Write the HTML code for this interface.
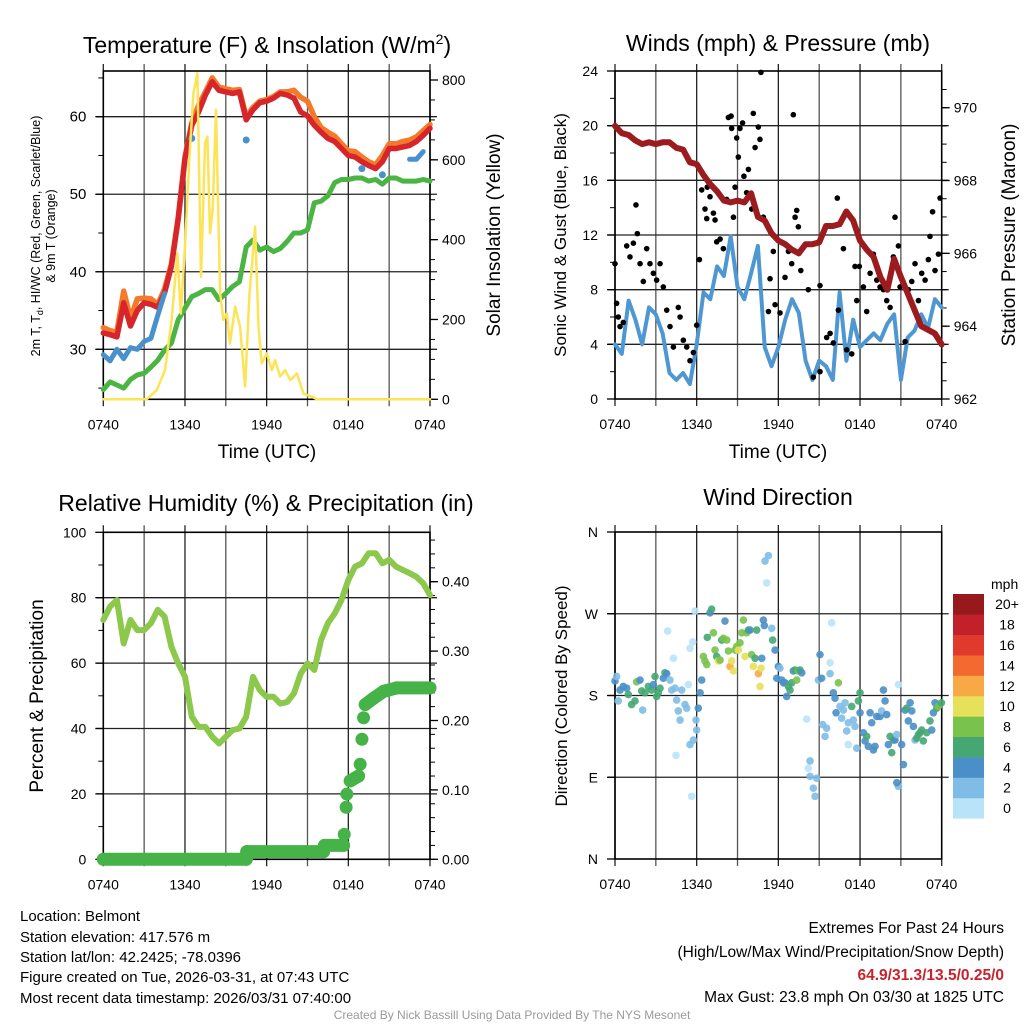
<!DOCTYPE html>
<html><head><meta charset="utf-8"><style>
html,body{margin:0;padding:0;background:#fff;}
svg{display:block;font-family:"Liberation Sans",Arial,sans-serif;}
</style></head><body>
<svg id="fig" width="1024" height="1024" viewBox="0 0 1024 1024" xmlns="http://www.w3.org/2000/svg">
<rect x="0" y="0" width="1024" height="1024" fill="#fff"/>
<text x="267" y="53" font-size="23" text-anchor="middle">Temperature (F) &amp; Insolation (W/m<tspan font-size="14" dy="-9">2</tspan><tspan dy="9">)</tspan></text>
<text x="778" y="51" font-size="23" text-anchor="middle">Winds (mph) &amp; Pressure (mb)</text>
<text x="266" y="511" font-size="23" text-anchor="middle">Relative Humidity (%) &amp; Precipitation (in)</text>
<text x="778" y="505" font-size="23" text-anchor="middle">Wind Direction</text>
<text x="267" y="458" font-size="19" text-anchor="middle">Time (UTC)</text>
<text x="778" y="458" font-size="19" text-anchor="middle">Time (UTC)</text>
<text transform="translate(40,236) rotate(-90)" font-size="12.5" text-anchor="middle">2m T, T<tspan font-size="9" dy="3">d</tspan><tspan dy="-3">, HI/WC (Red, Green, Scarlet/Blue)</tspan></text>
<text transform="translate(55,236) rotate(-90)" font-size="12.5" text-anchor="middle">&amp; 9m T (Orange)</text>
<text transform="translate(500,235) rotate(-90)" font-size="19" text-anchor="middle">Solar Insolation (Yellow)</text>
<text transform="translate(566,235) rotate(-90)" font-size="17" text-anchor="middle">Sonic Wind &amp; Gust (Blue, Black)</text>
<text transform="translate(1015,235) rotate(-90)" font-size="19" text-anchor="middle">Station Pressure (Maroon)</text>
<text transform="translate(43,696) rotate(-90)" font-size="19" text-anchor="middle">Percent &amp; Precipitation</text>
<text transform="translate(567,696) rotate(-90)" font-size="17" text-anchor="middle">Direction (Colored By Speed)</text>
<g font-size="15">
<text x="20" y="921">Location: Belmont</text>
<text x="20" y="942">Station elevation: 417.576 m</text>
<text x="20" y="962">Station lat/lon: 42.2425; -78.0396</text>
<text x="20" y="982">Figure created on Tue, 2026-03-31, at 07:43 UTC</text>
<text x="20" y="1003">Most recent data timestamp: 2026/03/31 07:40:00</text>
</g>
<g font-size="15.5" text-anchor="end">
<text x="1004" y="933">Extremes For Past 24 Hours</text>
<text x="1004" y="957">(High/Low/Max Wind/Precipitation/Snow Depth)</text>
<text x="1004" y="980" fill="#c8232c" font-weight="bold">64.9/31.3/13.5/0.25/0</text>
<text x="1004" y="1002">Max Gust: 23.8 mph On 03/30 at 1825 UTC</text>
</g>
<text x="512" y="1019" font-size="12" fill="#9a9a9a" text-anchor="middle">Created By Nick Bassill Using Data Provided By The NYS Mesonet</text>
</svg>
<script>
// ---------- data (half-hour samples, hour 0 = 0740 UTC) ----------
const timeLabels = ['0740','1340','1940','0140','0740'];
const tempRed = [32.1,31.9,31.6,36,33,35,36.0,35.8,35.4,37.3,40.7,46.8,54.6,58.9,60.6,62.8,64.5,63.4,63.2,63.0,63.2,59.6,60.9,61.8,62.0,62.4,63.0,62.8,62.4,60.6,60.1,58.9,58.0,57.2,56.8,55.9,55.0,54.8,54.2,53.7,53.3,54.2,55.9,55.9,56.1,56.3,56.8,57.6,58.5];
const tempOrange = [32.8,32.4,32.2,37.5,34,36.5,36.6,36.5,35.8,37.8,41,47,54.8,59.2,61.5,63.2,65,63.8,63.6,63.4,63.5,60,61.2,62,62.2,62.6,63.2,63.2,63.4,62.5,62,60,58.6,58,57.5,56.5,55.6,55.5,54.8,54.2,53.8,55,56.5,56.5,56.8,57,57.4,58.2,59];
const tempWC = [29.3,28.5,30,28.8,30.2,30,31,31.4,34.4,37.2,null,null,null,57.2,null,null,null,null,null,null,null,57,null,null,null,null,null,null,null,null,null,null,null,null,null,null,null,null,53.3,null,null,52.5,null,null,null,54.5,54.5,55.5,null];
const dewGreen = [24.8,25.8,25.4,25.0,26.1,26.7,26.9,27.7,28.6,29.9,30.8,33.8,35.3,36.8,37.2,37.7,37.7,36.4,37.2,38.1,38.7,43.2,44.1,42.8,43.2,42.6,43.0,43.9,45.0,45.0,45.4,48.9,49.1,49.8,51.5,51.9,51.9,52.1,52.1,51.7,51.9,51.3,52.1,52.1,51.7,51.7,51.7,51.9,51.7];
const solarHours = [0,3.19,3.92,4.53,5.02,5.44,5.69,6.0,6.32,6.62,6.91,7.18,7.48,7.65,7.84,8.04,8.28,8.58,8.82,9.07,9.31,9.68,10.05,10.42,10.74,10.91,11.15,11.4,11.64,12.01,12.38,12.62,12.99,13.36,13.73,14.22,14.71,15.2,15.69,24];
const solarValues = [0,0,23,73,199,366,215,383,600,767,817,307,642,658,416,475,725,266,199,215,140,232,182,32,266,332,433,182,90,115,73,98,57,73,48,65,14,8,0,0];
const windSpeed = [4,3.3,7.2,5.8,4.0,6.7,6.2,4.8,1.9,1.4,1.9,1.1,4.0,7.8,7.3,9.7,9.0,11.9,8.2,7.3,9.2,11.2,3.8,2.4,3.8,5.8,7.3,6.3,2.8,1.4,2.8,2.4,1.4,7.8,2.8,5.8,3.8,4.3,4.8,4.3,5.5,6.2,1.4,4.5,5.0,6.2,5.2,7.3,6.7];
const pressure = [969.5,969.3,969.25,969.1,969.0,969.05,969.0,969.05,969.05,968.9,968.85,968.5,968.45,968.15,967.9,967.7,967.45,967.4,967.45,967.4,967.65,967.0,966.9,966.55,966.35,966.25,966.1,966.0,966.25,966.25,966.3,966.75,966.75,966.8,967.15,966.9,966.35,966.1,965.9,965.35,965.0,965.85,965.35,964.9,964.45,964.0,963.9,963.8,963.5];
const gustHours = [0,0.12,0.24,0.37,0.61,0.86,1.1,1.35,1.54,1.64,1.84,2.08,2.33,2.57,2.82,3.06,3.31,3.55,3.8,4.04,4.29,4.65,4.78,5.02,5.27,5.51,5.76,6.0,6.2,6.37,6.61,6.74,6.78,6.98,7.23,7.35,7.47,7.72,7.96,8.21,8.33,8.53,8.57,8.7,8.82,8.94,9.06,9.18,9.37,9.47,9.67,9.8,10.04,10.16,10.29,10.53,10.65,10.72,10.9,11.27,11.39,11.63,11.76,12.12,12.49,12.74,12.98,13.23,13.35,13.1,13.47,13.65,14.2,14.57,15.06,15.06,15.55,15.8,16.04,16.41,16.33,16.78,17.02,17.39,17.63,17.76,17.95,18.0,18.25,18.49,18.74,18.98,19.23,19.47,19.72,19.96,20.21,20.45,20.57,20.82,20.94,21.31,21.55,21.8,22.04,22.29,22.53,22.78,23.02,23.14,23.33,23.51,23.76,23.88];
const gustValues = [9.9,7.0,6.0,5.3,5.6,11.2,10.4,11.4,14.2,12.1,9.9,8.6,11.0,9.9,9.2,8.7,9.9,8.2,6.5,5.3,3.8,6.7,6.0,4.3,3.8,2.8,3.4,5.4,10.2,15.3,13.9,13.2,15.5,14.8,13.6,13.1,11.5,11.7,11.0,14.6,20.6,20.7,19.8,13.3,15.5,19.1,17.7,19.8,20.2,16.3,15.1,16.8,13.9,20.9,18.4,19.9,19.0,23.9,13.3,6.4,8.8,10.8,6.9,6.3,8.9,10.8,9.9,13.3,13.8,20.8,12.6,9.4,8.0,1.6,2.0,8.3,4.5,4.8,4.1,6.5,14.7,11.0,3.6,3.3,9.7,7.2,9.7,11.6,8.2,6.4,9.2,10.6,8.7,8.2,8.0,7.2,6.7,10.4,13.3,11.2,8.2,4.2,8.0,8.6,9.9,7.2,9.2,8.7,10.2,11.9,13.7,9.4,10.6,14.7,13.5];
const rhValues = [73.2,77.3,79.3,66.0,73.2,70.1,70.1,72.2,76.3,74.2,65.0,59.9,55.8,43.6,40.5,40.5,37.5,35.4,37.5,39.5,40.0,43.6,55.8,51.7,49.7,49.7,47.6,48.1,50.7,56.8,59.9,57.9,67.1,72.2,75.2,79.3,85.4,89.5,90.5,93.6,93.6,90.5,91.6,89.5,88.5,87.5,86.4,84.4,80.8];
const precipHours = [0,10.5,10.54,16.18,16.25,17.65,17.7,17.84,17.89,18.14,18.75,18.87,19.0,19.12,19.24,19.85,20.59,21.57,24];
const precipValues = [0,0,0.011,0.011,0.02,0.02,0.036,0.075,0.094,0.113,0.12,0.137,0.173,0.204,0.223,0.232,0.242,0.247,0.247];
const dirHours = [0,0.12,0.24,0.37,0.61,0.86,0.98,1.22,1.47,1.59,1.84,1.96,2.03,2.2,2.45,2.69,2.82,2.94,3.06,3.18,3.31,3.55,3.67,3.8,4.04,4.16,4.41,4.53,4.65,4.78,4.9,5.14,5.27,5.39,5.51,5.63,4.48,3.87,4.29,5.51,5.71,5.88,5.76,6.0,5.95,6.12,6.25,6.37,6.49,6.61,6.74,6.78,6.98,7.1,7.23,7.35,7.47,7.59,7.72,7.84,7.96,8.08,8.21,8.33,8.45,8.57,8.7,8.82,8.94,9.06,9.18,9.31,9.43,9.55,9.67,9.8,9.92,10.04,10.16,10.29,10.41,10.53,10.65,10.73,10.78,10.9,10.97,11.02,11.14,11.27,11.51,11.58,11.76,11.88,12.0,12.12,12.25,12.37,12.49,12.61,12.74,12.86,12.98,13.1,13.23,13.35,13.47,13.59,13.72,14.08,14.2,14.33,14.33,14.57,14.7,14.82,14.94,15.06,15.18,15.26,15.43,15.55,15.8,15.8,15.92,16.04,16.16,16.24,16.41,16.53,16.65,16.78,16.9,17.02,17.14,17.14,17.39,17.51,17.63,17.76,17.88,18.0,18.0,18.25,18.37,18.49,18.61,18.74,18.86,18.98,19.1,19.23,19.47,19.59,19.72,19.84,19.96,20.08,20.21,20.33,20.45,20.57,20.7,20.82,20.82,20.7,21.06,21.19,21.31,21.43,21.55,21.68,21.8,21.92,22.04,22.16,22.29,22.41,22.53,22.65,22.9,23.14,23.27,23.39,23.51,23.63,23.76,23.98];
const dirValues = [196,201,174,186,190,188,181,170,174,195,197,185,164,183,190,186,192,201,179,183,188,199,205,204,197,186,188,175,163,153,186,170,166,192,126,69,114,251,221,232,239,273,131,142,153,166,183,197,223,218,214,244,271,275,249,230,223,218,219,241,243,262,241,229,212,218,207,230,234,230,238,249,263,223,249,252,252,225,212,221,252,204,190,210,221,263,257,328,304,334,254,241,230,199,212,210,197,194,194,179,190,186,194,207,208,197,207,208,205,154,100,108,91,78,69,89,197,225,199,148,135,144,216,204,260,183,177,161,194,168,155,164,172,141,150,126,168,153,146,122,174,183,161,139,130,135,124,161,150,120,124,157,157,163,186,174,159,126,135,117,131,131,137,192,80,84,126,104,164,166,152,172,163,146,131,133,137,139,142,130,139,152,142,161,172,166,168,172];
const dirSpeeds = [4,2,2,4,4,4,6,6,6,8,4,6,2,6,6,6,4,6,6,6,6,4,6,4,2,2,2,2,2,2,2,2,2,0,2,0,0,0,0,0,0,0,2,2,2,4,4,4,8,8,8,6,4,6,8,8,6,10,8,6,8,4,8,8,12,10,10,8,8,10,8,8,8,10,8,6,4,8,10,6,6,12,10,10,4,4,4,2,0,2,2,6,4,4,4,2,4,4,4,4,6,6,6,4,6,8,8,6,4,0,0,2,2,2,2,2,2,4,4,2,2,2,0,2,0,4,4,4,8,2,2,2,2,2,2,0,6,2,2,2,6,6,4,4,4,6,4,4,4,4,4,4,4,2,4,4,4,4,6,6,6,4,2,0,2,4,4,4,4,6,4,4,4,4,2,6,6,6,6,6,6,6,4,4,4,6,8,6];
const speedBins = ['0','2','4','6','8','10','12','14','16','18','20+'];
const speedColors = ['#b9e3f8','#7fbce6','#4a8fc7','#45a772','#79c24b','#e7e05a','#f8a945','#f26a2e','#e03a2d','#c2202a','#98191c'];

// ---------- helpers ----------
const NS = 'http://www.w3.org/2000/svg';
const svg = document.getElementById('fig');
function lin(d0,d1,r0,r1){return v=>r0+(v-d0)*(r1-r0)/(d1-d0);}
function mk(tag,parent){const e=document.createElementNS(NS,tag);parent.appendChild(e);return e;}
function grp(name){
  const g=mk('g',svg);
  
  
  return g;
}
const halfHours = tempRed.map((_,i)=>i*0.5);

function drawFrame(name,x0,x1,y0,y1,xs,hLines){
  const g=grp(name);
  for(let h=0;h<=24;h+=3){
    const x=xs(h);
    const l=mk('line',g);
    
    
    l.setAttribute('x1',x);l.setAttribute('x2',x);l.setAttribute('y1',y0-7);l.setAttribute('y2',y1+7);
    l.setAttribute('stroke',(h/3)%2? '#555':'#222');l.setAttribute('stroke-width','1.3');
  }
  hLines.forEach(y=>{
    const l=mk('line',g);
    
    
    l.setAttribute('x1',x0-7);l.setAttribute('x2',x1+7);l.setAttribute('y1',y);l.setAttribute('y2',y);
    l.setAttribute('stroke','#222');l.setAttribute('stroke-width','1.3');
  });
  const r=mk('rect',g);
  
  
  r.setAttribute('x',x0);r.setAttribute('y',y0);r.setAttribute('width',x1-x0);r.setAttribute('height',y1-y0);
  r.setAttribute('fill','none');r.setAttribute('stroke','#000');r.setAttribute('stroke-width','1.6');
  timeLabels.forEach((t,i)=>{
    const tx=mk('text',g);
    
    
    tx.setAttribute('x',xs(i*6));tx.setAttribute('y',y1+30);tx.setAttribute('font-size','14');tx.setAttribute('text-anchor','middle');
    tx.textContent=t;
  });
}
function yAxis(name,side,xEdge,scale,major,labels,minor,fs){
  const g=grp(name);
  minor.forEach(v=>{
    const l=mk('line',g);
    
    
    const y=scale(v);
    l.setAttribute('x1',xEdge);l.setAttribute('x2',xEdge+(side==='left'?-5:5));l.setAttribute('y1',y);l.setAttribute('y2',y);
    l.setAttribute('stroke','#000');l.setAttribute('stroke-width','1');
  });
  major.forEach((v,i)=>{
    const y=scale(v);
    const l=mk('line',g);
    
    
    l.setAttribute('x1',xEdge);l.setAttribute('x2',xEdge+(side==='left'?-8:8));l.setAttribute('y1',y);l.setAttribute('y2',y);
    l.setAttribute('stroke','#000');l.setAttribute('stroke-width','1.3');
    const t=mk('text',g);
    
    
    t.setAttribute('x',side==='left'?xEdge-17:xEdge+12);t.setAttribute('y',y+5);t.setAttribute('font-size',fs||'14');
    t.setAttribute('text-anchor',side==='left'?'end':'start');
    t.textContent=labels[i];
  });
}
function polyline(g,name,xs,ys,hours,vals,color,w){
  let run=[];
  const flush=()=>{
    if(run.length>1){
      const p=mk('polyline',g);
      
      
      p.setAttribute('points',run.join(' '));p.setAttribute('fill','none');p.setAttribute('stroke',color);
      p.setAttribute('stroke-width',w);p.setAttribute('stroke-linejoin','round');p.setAttribute('stroke-linecap','round');
    } else if(run.length===1){
      const c=mk('circle',g);
      
      
      const [cx,cy]=run[0].split(',');
      c.setAttribute('cx',cx);c.setAttribute('cy',cy);c.setAttribute('r',w/2+1);c.setAttribute('fill',color);
    }
    run=[];
  };
  vals.forEach((v,i)=>{ if(v===null){flush();} else run.push(xs(hours[i]).toFixed(1)+','+ys(v).toFixed(1)); });
  flush();
}
function rng(a,b,s){const r=[];for(let v=a;v<=b+1e-9;v+=s)r.push(+v.toFixed(3));return r;}

// ---------- Panel 1: temperature ----------
{
  const x0=103.3,x1=430,y0=71,y1=399.3;
  const xs=lin(0,24,x0,x1), yT=lin(30,60,349.3,116.7), yS=lin(0,800,399.3,80);
  drawFrame('temperature-panel-frame',x0,x1,y0,y1,xs,[30,40,50,60].map(yT));
  yAxis('temperature-left-axis','left',x0,yT,[30,40,50,60],['30','40','50','60'],[25,35,45,55,65],'15');
  yAxis('solar-right-axis','right',x1,yS,[0,200,400,600,800],['0','200','400','600','800'],rng(0,800,50));
  const g=grp('temperature-series');
  polyline(g,'dewpoint-line',xs,yT,halfHours,dewGreen,'#4bb543',5);
  polyline(g,'temp-9m-line',xs,yT,halfHours,tempOrange,'#f47a2a',5.5);
  polyline(g,'temp-2m-line',xs,yT,halfHours,tempRed,'#d7262b',5.5);
  polyline(g,'windchill-line',xs,yT,halfHours,tempWC,'#4891cc',5);
  polyline(g,'solar-line',xs,yS,solarHours,solarValues,'#fde456',2.5);
}
// ---------- Panel 2: winds ----------
{
  const x0=615,x1=941.7,y0=71,y1=399;
  const xs=lin(0,24,x0,x1), yW=lin(0,24,399,71), yP=lin(962,970,399,107.7);
  drawFrame('winds-panel-frame',x0,x1,y0,y1,xs,[4,8,12,16,20].map(yW));
  yAxis('wind-left-axis','left',x0,yW,[0,4,8,12,16,20,24],['0','4','8','12','16','20','24'],rng(2,22,4));
  yAxis('pressure-right-axis','right',x1,yP,[962,964,966,968,970],['962','964','966','968','970'],rng(962,970.5,0.5));
  const g=grp('wind-series');
  polyline(g,'wind-speed-line',xs,yW,halfHours,windSpeed,'#4f97d2',4);
  gustHours.forEach((h,i)=>{
    const c=mk('circle',g);
    
    
    c.setAttribute('cx',xs(h));c.setAttribute('cy',yW(gustValues[i]));c.setAttribute('r','2.8');c.setAttribute('fill','#000');
  });
  polyline(g,'pressure-line',xs,yP,halfHours,pressure,'#9b1b1e',6);
}
// ---------- Panel 3: humidity ----------
{
  const x0=103.3,x1=430,y0=532.3,y1=859.3;
  const xs=lin(0,24,x0,x1), yR=lin(0,100,859.3,532.3), yPr=lin(0,0.4,859.3,581.7);
  drawFrame('humidity-panel-frame',x0,x1,y0,y1,xs,[20,40,60,80].map(yR));
  yAxis('humidity-left-axis','left',x0,yR,[0,20,40,60,80,100],['0','20','40','60','80','100'],rng(10,90,20));
  yAxis('precip-right-axis','right',x1,yPr,[0,0.1,0.2,0.3,0.4],['0.00','0.10','0.20','0.30','0.40'],rng(0,0.46,0.02));
  const g=grp('humidity-series');
  polyline(g,'rh-line',xs,yR,halfHours,rhValues,'#8cc84b',6);
  for(let i=1;i<precipHours.length;i++){
    if(Math.abs(precipValues[i]-precipValues[i-1])<0.012){
      const l=mk('line',g);
      
      
      l.setAttribute('x1',xs(precipHours[i-1]));l.setAttribute('x2',xs(precipHours[i]));
      l.setAttribute('y1',yPr(precipValues[i-1]));l.setAttribute('y2',yPr(precipValues[i]));
      l.setAttribute('stroke','#46b348');l.setAttribute('stroke-width','13');l.setAttribute('stroke-linecap','round');
    }
  }
  precipHours.forEach((h,i)=>{
    const c=mk('circle',g);
    
    
    c.setAttribute('cx',xs(h));c.setAttribute('cy',yPr(precipValues[i]));c.setAttribute('r','6.5');c.setAttribute('fill','#46b348');
  });
}
// ---------- Panel 4: wind direction ----------
{
  const x0=615,x1=941.7,y0=532,y1=859;
  const xs=lin(0,24,x0,x1), yD=lin(0,360,859,532);
  drawFrame('direction-panel-frame',x0,x1,y0,y1,xs,[90,180,270].map(yD));
  yAxis('direction-left-axis','left',x0,yD,[0,90,180,270,360],['N','E','S','W','N'],[]);
  const g=grp('direction-series');
  dirHours.forEach((h,i)=>{
    const c=mk('circle',g);
    
    
    const bin=Math.min(10,Math.floor(dirSpeeds[i]/2));
    c.setAttribute('cx',xs(h));c.setAttribute('cy',yD(dirValues[i]));c.setAttribute('r','3.8');
    c.setAttribute('fill',speedColors[bin]);c.setAttribute('fill-opacity','0.9');
  });
  const cb=grp('speed-colorbar');
  const t=mk('text',cb);
  
  
  t.setAttribute('x','991');t.setAttribute('y','589');t.setAttribute('font-size','14');t.textContent='mph';
  speedBins.forEach((lab,i)=>{
    const bh=224.3/11, top=818.3-(i+1)*bh;
    const r=mk('rect',cb);
    
    
    r.setAttribute('x','953');r.setAttribute('y',top);r.setAttribute('width','31');r.setAttribute('height',bh+0.3);r.setAttribute('fill',speedColors[i]);
    const tx=mk('text',cb);
    
    
    tx.setAttribute('x','1007');tx.setAttribute('y',top+bh/2+5);tx.setAttribute('font-size','14');tx.setAttribute('text-anchor','middle');
    tx.textContent=lab;
  });
}
</script>
</body></html>
